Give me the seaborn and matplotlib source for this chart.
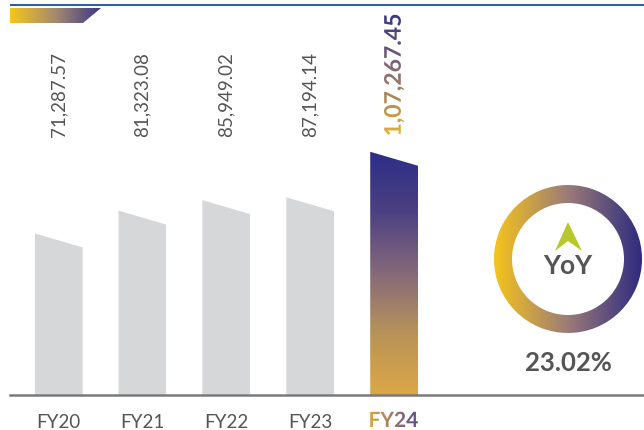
import numpy as np
import matplotlib
matplotlib.use('Agg')
import matplotlib.pyplot as plt
import seaborn as sns
from matplotlib.colors import LinearSegmentedColormap
from matplotlib.patches import Polygon, PathPatch, Wedge
from matplotlib.textpath import TextPath
from matplotlib.font_manager import FontProperties
from matplotlib.transforms import Affine2D

years = ['FY20', 'FY21', 'FY22', 'FY23', 'FY24']
revenue = [71287.57, 81323.08, 85949.02, 87194.14, 107267.45]
yoy_growth = 23.02

sns.set_style('white')
plt.rcParams['font.family'] = ['Lato', 'DejaVu Sans']

gray = '#d6d7d9'
text_gray = '#555555'
bar_cmap = LinearSegmentedColormap.from_list('bar', ['#dca846', '#b89358', '#86697a', '#4c4282', '#2d2d88'])
ring_cmap = LinearSegmentedColormap.from_list('ring', ['#f7c51a', '#9b7b78', '#2c2a80'])
strip_cmap = LinearSegmentedColormap.from_list('strip', ['#f7c61a', '#a58a6e', '#3b3787'])
label_cmap = LinearSegmentedColormap.from_list('lbl', ['#e6b032', '#8c6f70', '#35358a'])
tick_cmap = LinearSegmentedColormap.from_list('tick', ['#d9a747', '#5a4a8c'])


def indian(v):
    whole, frac = f"{v:.2f}".split('.')
    if len(whole) > 3:
        head, tail = whole[:-3], whole[-3:]
        groups = []
        while len(head) > 2:
            groups.insert(0, head[-2:])
            head = head[:-2]
        if head:
            groups.insert(0, head)
        whole = ','.join(groups + [tail])
    return whole + '.' + frac


def grad_text(ax, s, x, y, size, cmap, rotate=False):
    tp = TextPath((0, 0), s, size=size, prop=FontProperties(family='Lato', weight='bold'))
    ext = tp.get_extents()
    if rotate:
        tr = Affine2D().translate(-ext.x0, -(ext.y0 + ext.y1) / 2).rotate_deg(90).translate(x, y)
    else:
        tr = Affine2D().translate(-(ext.x0 + ext.x1) / 2, 0).translate(x, y)
    path = tr.transform_path(tp)
    b = path.get_extents()
    patch = PathPatch(path, facecolor='none', edgecolor='none')
    ax.add_patch(patch)
    g = np.linspace(0, 1, 256)
    img = g[:, None] if rotate else g[None, :]
    im = ax.imshow(img, cmap=cmap, extent=[b.x0, b.x1, b.y0, b.y1], origin='lower',
                   aspect='auto', interpolation='bicubic')
    im.set_clip_path(patch)


fig = plt.figure(figsize=(6.44, 4.30), dpi=100)
ax = fig.add_axes([10 / 644, 35 / 430, 634 / 644, 390 / 430])

bar_w = 0.572
slant = 6200
ymax = 172000
label_y = 114000

sns.barplot(x=years, y=revenue, hue=years, palette=[gray] * 4 + ['none'],
            legend=False, width=bar_w, ax=ax, saturation=1)

for i, p in enumerate(ax.patches):
    x0 = p.get_x()
    x1 = x0 + p.get_width()
    h = p.get_height()
    poly = Polygon([(x0, 0), (x0, h), (x1, h - slant), (x1, 0)], closed=True,
                   facecolor='none', edgecolor='none', transform=ax.transData)
    ax.add_patch(poly)
    p.set_edgecolor('none')
    p.set_clip_path(poly)
    if i == len(revenue) - 1:
        g = np.linspace(0, 1, 256)[:, None]
        im = ax.imshow(g, cmap=bar_cmap, extent=[x0, x1, 0, h], origin='lower',
                       aspect='auto', interpolation='bicubic', zorder=2)
        im.set_clip_path(poly)

for i, v in enumerate(revenue[:-1]):
    ax.text(i, label_y, indian(v), rotation=90, ha='center', va='bottom',
            fontsize=13.5, color=text_gray)

ax.set_xlim(-0.579, 6.977)
ax.set_ylim(0, ymax)
ax.set_xticks(range(len(years)))
ax.set_xticklabels(years[:-1] + [''])
ax.tick_params(axis='x', length=0, labelsize=13.5, labelcolor=text_gray, pad=14)
ax.set_yticks([])
ax.set_xlabel('')
ax.set_ylabel('')
for s in ['left', 'top', 'right']:
    ax.spines[s].set_visible(False)
ax.spines['bottom'].set_color('#7a7a7a')
ax.spines['bottom'].set_linewidth(1.8)

# overlay in pixel coordinates for decorations
ov = fig.add_axes([0, 0, 1, 1])
ov.axis('off')

ov.plot([10, 644], [425.5, 425.5], color='#2f5fa5', lw=1.5, solid_capstyle='butt')

strip = Polygon([(10, 422), (101, 422), (83, 407), (10, 407)], closed=True,
                facecolor='none', edgecolor='none')
ov.add_patch(strip)
im = ov.imshow(np.linspace(0, 1, 256)[None, :], cmap=strip_cmap, extent=[10, 101, 407, 422],
               origin='lower', aspect='auto', interpolation='bicubic')
im.set_clip_path(strip)

grad_text(ov, indian(revenue[-1]), 394, 295, 23, label_cmap, rotate=True)
grad_text(ov, years[-1], 394, 3, 21, tick_cmap)

cx, cy = 568, 171
ring = Wedge((cx, cy), 74, 0, 360, width=18, facecolor='none', edgecolor='none')
ov.add_patch(ring)
im = ov.imshow(np.linspace(0, 1, 256)[None, :], cmap=ring_cmap,
               extent=[cx - 75, cx + 75, cy - 75, cy + 75], origin='lower',
               aspect='auto', interpolation='bicubic')
im.set_clip_path(ring)

arrow = Polygon([(cx, 208), (cx - 13, 179), (cx, 189), (cx + 14, 179)], closed=True,
                facecolor='#b8c72c', edgecolor='none')
ov.add_patch(arrow)
ov.text(cx, 164, 'YoY', ha='center', va='center', fontsize=19, fontweight='bold', color=text_gray)
ov.text(cx, 67, f'{yoy_growth:.2f}%', ha='center', va='center', fontsize=18.5,
        fontweight='bold', color=text_gray)

ov.set_xlim(0, 644)
ov.set_ylim(0, 430)

fig.savefig('out.png', dpi=100)
